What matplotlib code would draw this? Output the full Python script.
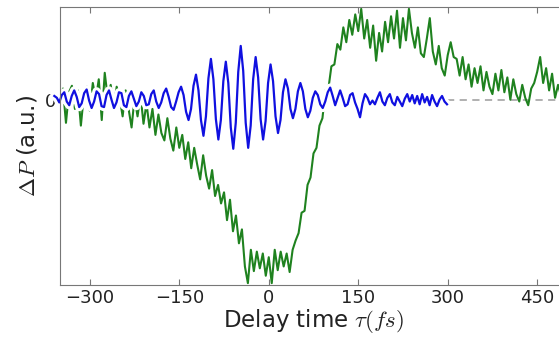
import numpy as np
import matplotlib
matplotlib.use("Agg")
import matplotlib.pyplot as plt
import matplotlib.patheffects as pe

plt.rcParams["mathtext.fontset"] = "cm"

# green trace: pump-probe signal, sampled every 5 fs from -350 to 500 fs
green_start, green_step = -350, 5
green_vals = [
    -0.05, 0.12, -0.25, 0.08, 0.15, -0.10, 0.10, -0.28, 0.05, 0.14,
    -0.12, 0.18, 0.00, 0.22, -0.22, 0.29, 0.02, 0.16, -0.10, 0.14,
    0.02, -0.18, 0.10, -0.10, -0.30, 0.02, -0.18, 0.05, -0.26, -0.04,
    -0.30, -0.10, -0.38, -0.16, -0.36, -0.44, -0.20, -0.42, -0.55, -0.30,
    -0.52, -0.38, -0.64, -0.46, -0.74, -0.52, -0.70, -0.86, -0.60, -0.82,
    -0.96, -0.76, -1.04, -0.92, -1.12, -1.00, -1.30, -1.08, -1.42, -1.25,
    -1.55, -1.40, -1.80, -1.98, -1.62, -1.85, -1.64, -1.82, -1.66, -1.90,
    -1.70, -1.98, -1.62, -1.84, -1.64, -1.80, -1.66, -1.86, -1.62, -1.52,
    -1.44, -1.22, -1.20, -0.92, -0.84, -0.58, -0.52, -0.28, -0.20, 0.10,
    0.12, 0.36, 0.38, 0.60, 0.54, 0.78, 0.62, 0.86, 0.70, 0.92,
    0.74, 0.98, 0.66, 0.86, 0.56, 0.80, 0.42, 0.72, 0.52, 0.84,
    0.62, 0.90, 0.66, 0.96, 0.56, 0.88, 0.64, 0.98, 0.72, 0.56,
    0.78, 0.50, 0.46, 0.66, 0.88, 0.52, 0.38, 0.58, 0.34, 0.26,
    0.48, 0.62, 0.46, 0.44, 0.26, 0.46, 0.22, 0.38, 0.14, 0.34,
    0.18, 0.36, 0.10, 0.30, 0.14, 0.06, 0.28, 0.10, 0.32, 0.08,
    0.24, 0.00, 0.22, 0.06, -0.02, 0.16, 0.02, -0.06, 0.12, 0.18,
    0.30, 0.46, 0.18, 0.34, 0.10, 0.28, 0.02, 0.16, 0.04, 0.18,
    0.08,
]

# blue trace: oscillatory component, sampled every 25/6 fs from -359.5 fs
blue_start, blue_step = -359.5, 25 / 6
blue_vals = [
    0.04, 0.02, -0.03, 0.05, 0.08, -0.02, -0.06, 0.04, 0.10, 0.03,
    -0.08, -0.04, 0.07, 0.11, -0.01, -0.09, -0.02, 0.09, 0.06, -0.07,
    -0.08, 0.05, 0.10, 0.00, -0.09, -0.03, 0.08, 0.07, -0.06, -0.08,
    0.04, 0.09, 0.01, -0.07, -0.02, 0.08, 0.04, -0.06, -0.05, 0.06,
    0.10, -0.02, -0.09, -0.03, 0.07, 0.12, 0.03, -0.08, -0.11, -0.02,
    0.08, 0.14, 0.05, -0.13, -0.22, -0.10, 0.15, 0.27, 0.10, -0.22,
    -0.39, -0.18, 0.23, 0.44, 0.22, -0.21, -0.43, -0.22, 0.20, 0.41,
    0.18, -0.30, -0.53, -0.25, 0.30, 0.58, 0.31, -0.25, -0.52, -0.28,
    0.22, 0.46, 0.24, -0.21, -0.43, -0.23, 0.18, 0.38, 0.20, -0.18,
    -0.36, -0.22, 0.08, 0.22, 0.12, -0.10, -0.20, -0.10, 0.09, 0.18,
    0.09, -0.10, -0.19, -0.12, 0.02, 0.09, 0.05, -0.05, -0.09, -0.02,
    0.08, 0.13, 0.04, -0.06, 0.02, 0.10, 0.02, -0.07, -0.05, 0.05,
    0.07, -0.03, -0.10, -0.19, -0.04, 0.06, 0.02, -0.05, -0.01, -0.05,
    0.02, 0.08, -0.02, -0.06, 0.02, 0.06, -0.03, -0.06, 0.03, -0.02,
    -0.07, 0.01, 0.06, -0.02, 0.05, -0.04, 0.04, -0.05, 0.06, -0.03,
    0.03, -0.06, 0.05, -0.02, -0.07, 0.00, 0.04, -0.02, -0.05,
]

x_ticks = [-300, -150, 0, 150, 300, 450]
x_range = (-350, 500)
y_range = (-2, 1)

t_green = green_start + green_step * np.arange(len(green_vals))
t_blue = blue_start + blue_step * np.arange(len(blue_vals))

fig = plt.figure(figsize=(5.59, 3.37), dpi=100)
# axes runs past the right edge of the picture, like the cropped original
ax = fig.add_axes([60 / 559, 52 / 337, 507 / 559, 278 / 337])

ax.hlines(0, t_blue[-1], x_range[1], colors="#aaaaaa", linestyles=(0, (4, 3)), lw=1.3)
ax.plot(t_green, green_vals, color="#1f821f", lw=1.5)
ax.plot(t_blue, blue_vals, color="#1010e0", lw=1.6, clip_on=False,
        path_effects=[pe.Stroke(linewidth=6, foreground="white"), pe.Normal()])

ax.set_xlim(*x_range)
ax.set_ylim(*y_range)
ax.set_xticks(x_ticks)
ax.set_yticks([0])
ax.set_yticklabels(["0"])
ax.tick_params(direction="in", top=True, right=True, labelsize=13,
               colors="#777777", labelcolor="#222222", length=4, pad=3)
for s in ax.spines.values():
    s.set_color("#777777")

ax.set_xlabel(r"Delay time $\tau(fs)$", fontsize=16.5, color="#222222", labelpad=0)
ax.set_ylabel(r"$\Delta P$ (a.u.)", fontsize=16.5, color="#222222", labelpad=4)

fig.savefig("out.png", dpi=100)
